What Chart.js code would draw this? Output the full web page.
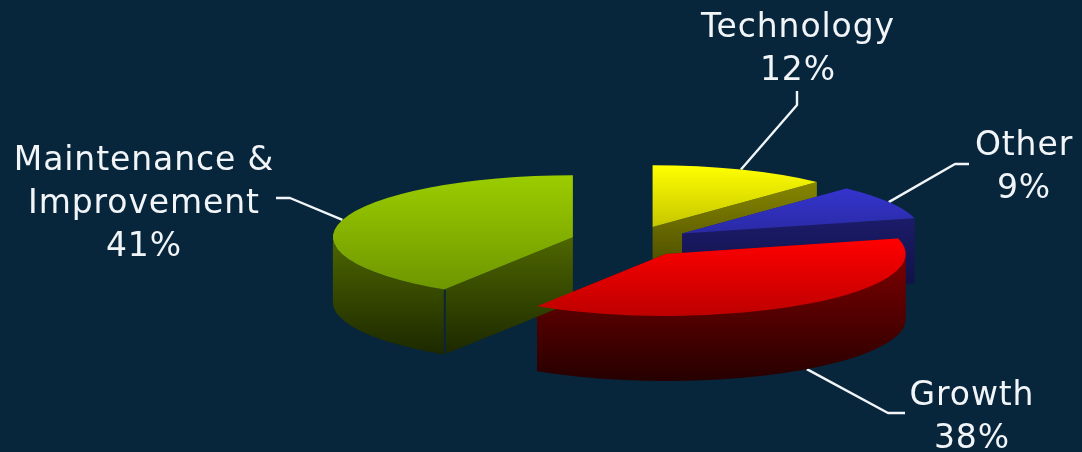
<!DOCTYPE html>
<html>
<head>
<meta charset="utf-8">
<title>Spending by category</title>
<script src="https://cdn.jsdelivr.net/npm/chart.js@4"></script>
<style>
  html, body { margin: 0; padding: 0; background: #07263c; overflow: hidden; }
  canvas { display: block; }
</style>
</head>
<body>
<canvas id="pie" width="1082" height="452"></canvas>
<script>
// Slice data, clockwise from twelve o'clock
const categories = ['Technology', 'Other', 'Growth', 'Maintenance & Improvement'];
const shares = [12, 9, 38, 41];

// Caption lines for each slice; the share is appended as the last line
const captionLines = [['Technology'], ['Other'], ['Growth'], ['Maintenance &', 'Improvement']];

// Surface colours: [far edge, near edge]
const topColours = [
  ['rgb(255,255,0)', 'rgb(198,198,0)'],
  ['rgb(52,52,205)', 'rgb(42,42,165)'],
  ['rgb(255,0,0)', 'rgb(190,0,0)'],
  ['rgb(155,205,0)', 'rgb(110,150,0)']
];
const wallColours = [
  ['rgb(146,146,0)', 'rgb(60,60,0)'],
  ['rgb(32,32,122)', 'rgb(15,15,63)'],
  ['rgb(135,0,0)', 'rgb(38,0,0)'],
  ['rgb(105,135,0)', 'rgb(28,40,0)']
];

// Caption placement: centre x, first baseline, and leader start + elbow
const captionLayout = [
  { x: 798, y: 37, from: [797, 91], elbow: [797, 105] },
  { x: 1024, y: 155, from: [969, 164], elbow: [955, 164] },
  { x: 972, y: 405, from: [905, 413], elbow: [888, 413] },
  { x: 144, y: 170, from: [276, 198], elbow: [290, 198] }
];

const BG = '#07263c';
const INK = '#f2f5f8';
const RADIUS = 240;   // pie radius in px
const TILT = 0.258;   // vertical squash of the pie plane
const DEPTH = 65;     // height of the extruded walls
const EXPLODE = 60;   // radial displacement of every slice
const LINE_GAP = 43;

const total = shares.reduce((a, b) => a + b, 0);

function sliceAngles(i) {
  const before = shares.slice(0, i).reduce((a, b) => a + b, 0);
  const start = -Math.PI / 2 + before / total * Math.PI * 2;
  return [start, start + shares[i] / total * Math.PI * 2];
}

// Lowest and highest sine reached on a slice, apex included
function sineExtent(start, end) {
  const vals = [0, Math.sin(start), Math.sin(end)];
  for (let k = -2; k <= 4; k++) {
    const a = Math.PI / 2 + k * Math.PI;
    if (a > start && a < end) vals.push(Math.sin(a));
  }
  return [Math.min(...vals), Math.max(...vals)];
}

function topFill(ctx) {
  const area = ctx.chart.chartArea;
  if (!area) return topColours[ctx.dataIndex][0];
  const cy = (area.top + area.bottom) / 2;
  const [a0, a1] = sliceAngles(ctx.dataIndex);
  const [lo, hi] = sineExtent(a0, a1);
  const g = ctx.chart.ctx.createLinearGradient(0, cy + RADIUS * lo, 0, cy + RADIUS * hi);
  g.addColorStop(0, topColours[ctx.dataIndex][0]);
  g.addColorStop(1, topColours[ctx.dataIndex][1]);
  return g;
}

// Screen position of a point on a slice's top face
function project(arc, angle, radius) {
  const mid = (arc.startAngle + arc.endAngle) / 2;
  return {
    x: arc.x + Math.cos(mid) * EXPLODE + Math.cos(angle) * radius,
    y: arc.y + (Math.sin(mid) * EXPLODE + Math.sin(angle) * radius) * TILT
  };
}

function drawWalls(ctx, arc, i) {
  const a0 = arc.startAngle, a1 = arc.endAngle, r = arc.outerRadius;
  const apex = project(arc, 0, 0);
  const [lo, hi] = sineExtent(a0, a1);
  const grad = ctx.createLinearGradient(0, apex.y + lo * r * TILT, 0, apex.y + hi * r * TILT + DEPTH);
  grad.addColorStop(0, wallColours[i][0]);
  grad.addColorStop(1, wallColours[i][1]);
  ctx.fillStyle = grad;

  // Flat cut faces along both radial edges
  [a0, a1].forEach(a => {
    const rim = project(arc, a, r);
    ctx.beginPath();
    ctx.moveTo(apex.x, apex.y);
    ctx.lineTo(rim.x, rim.y);
    ctx.lineTo(rim.x, rim.y + DEPTH);
    ctx.lineTo(apex.x, apex.y + DEPTH);
    ctx.closePath();
    ctx.fill();
  });

  // Curved outer wall, only where the rim faces the viewer
  for (let k = -1; k <= 2; k++) {
    const from = Math.max(a0, k * Math.PI * 2);
    const to = Math.min(a1, k * Math.PI * 2 + Math.PI);
    if (to <= from) continue;
    ctx.beginPath();
    ctx.ellipse(apex.x, apex.y, r, r * TILT, 0, from, to);
    ctx.ellipse(apex.x, apex.y + DEPTH, r, r * TILT, 0, to, from, true);
    ctx.closePath();
    ctx.fill();
  }

  // Seam where the opening cut face turns toward the viewer and meets the curved wall
  if (Math.sin(a0) > 0 && Math.cos(a0) < 0) {
    const rim = project(arc, a0, r);
    ctx.strokeStyle = BG;
    ctx.lineWidth = 2;
    ctx.beginPath();
    ctx.moveTo(rim.x + 0.5, rim.y);
    ctx.lineTo(rim.x + 0.5, rim.y + DEPTH);
    ctx.stroke();
  }
}

const tiltedPie = {
  id: 'tiltedPie',
  beforeDatasetDraw(chart, args) {
    const ctx = chart.ctx;
    const arcs = args.meta.data;

    // Leader lines run underneath the slices and end at each rim's mid-point
    ctx.save();
    ctx.strokeStyle = INK;
    ctx.lineWidth = 2.4;
    ctx.lineJoin = 'round';
    arcs.forEach((arc, i) => {
      const mid = (arc.startAngle + arc.endAngle) / 2;
      const p = project(arc, mid, arc.outerRadius);
      const yEnd = p.y + (Math.sin(mid) > 0 ? DEPTH : 0);
      const lay = captionLayout[i];
      ctx.beginPath();
      ctx.moveTo(lay.from[0], lay.from[1]);
      ctx.lineTo(lay.elbow[0], lay.elbow[1]);
      ctx.lineTo(p.x, yEnd);
      ctx.stroke();
    });
    ctx.restore();

    // Walls first, then every top face through the library's arc element
    ctx.save();
    arcs.forEach((arc, i) => drawWalls(ctx, arc, i));
    ctx.restore();

    arcs.forEach(arc => {
      const mid = (arc.startAngle + arc.endAngle) / 2;
      ctx.save();
      ctx.translate(Math.cos(mid) * EXPLODE, arc.y + Math.sin(mid) * EXPLODE * TILT);
      ctx.scale(1, TILT);
      ctx.translate(0, -arc.y);
      arc.draw(ctx);
      ctx.restore();
    });
    return false;
  },
  afterDatasetsDraw(chart) {
    const ctx = chart.ctx;
    ctx.save();
    ctx.fillStyle = INK;
    ctx.font = '33px "DejaVu Sans"';
    ctx.letterSpacing = '0.9px';
    ctx.textAlign = 'center';
    ctx.textBaseline = 'alphabetic';
    captionLines.forEach((lines, i) => {
      const lay = captionLayout[i];
      [...lines, shares[i] + '%'].forEach((text, n) => {
        ctx.fillText(text, lay.x, lay.y + n * LINE_GAP);
      });
    });
    ctx.restore();
  }
};

new Chart(document.getElementById('pie'), {
  type: 'pie',
  data: {
    labels: categories,
    datasets: [{
      data: shares,
      backgroundColor: topFill,
      borderWidth: 0,
      clip: false
    }]
  },
  options: {
    responsive: false,
    animation: false,
    events: [],
    radius: RADIUS,
    layout: { padding: { left: 179, top: 31 } },
    plugins: { legend: { display: false }, tooltip: { enabled: false } }
  },
  plugins: [tiltedPie]
});
</script>
</body>
</html>
